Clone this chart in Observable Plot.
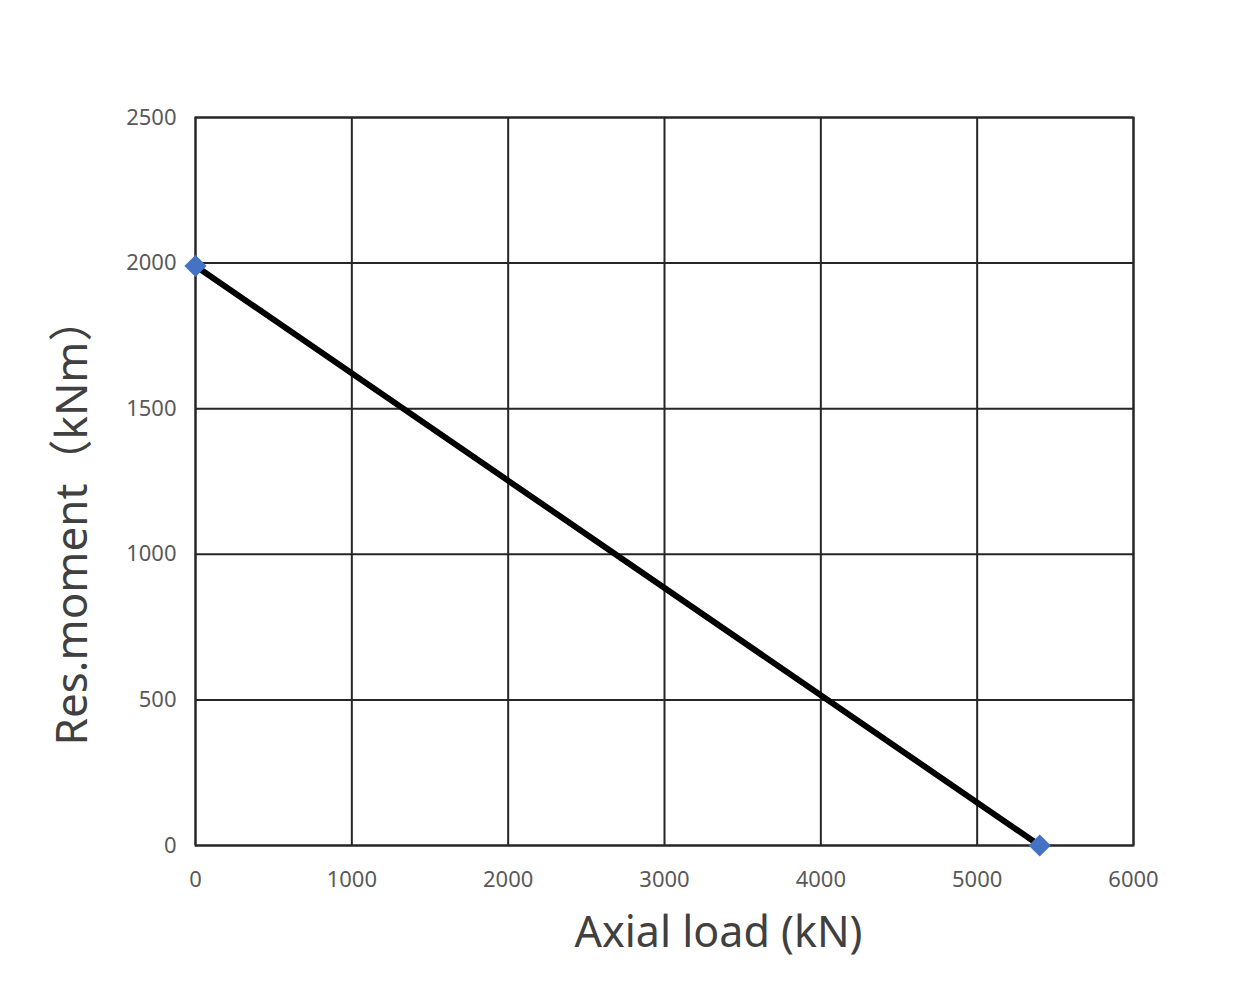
<!DOCTYPE html>
<html>
<head>
<meta charset="utf-8">
<script src="https://cdn.jsdelivr.net/npm/d3@7"></script>
<script src="https://cdn.jsdelivr.net/npm/@observablehq/plot@0.6"></script>
<style>
  html, body { margin: 0; padding: 0; background: #fff; }
  #chart { width: 1260px; height: 990px; }
</style>
</head>
<body>
<div id="chart"></div>
<script>
const axialLoad = [0, 5400];
const resMoment = [1990, 0];
const xTicks = [0, 1000, 2000, 3000, 4000, 5000, 6000];
const yTicks = [0, 500, 1000, 1500, 2000, 2500];
const xLabel = "Axial load (kN)";
const yLabel = "Res.moment（kNm）";

const data = axialLoad.map((x, i) => ({x, y: resMoment[i]}));
const font = "'Noto Sans', 'Noto Sans CJK SC', sans-serif";

const chart = Plot.plot({
  width: 1260,
  height: 990,
  marginLeft: 195,
  marginRight: 127,
  marginTop: 117,
  marginBottom: 145,
  style: {fontFamily: font, background: "#fff"},
  x: {domain: [0, 6000], ticks: xTicks},
  y: {domain: [0, 2500], ticks: yTicks},
  marks: [
    Plot.gridX(xTicks, {stroke: "#262626", strokeOpacity: 1, strokeWidth: 2}),
    Plot.gridY(yTicks, {stroke: "#262626", strokeOpacity: 1, strokeWidth: 2}),
    Plot.frame({stroke: "#262626", strokeWidth: 2}),
    Plot.axisX(xTicks, {tickSize: 0, tickPadding: 26, fontSize: 22, fill: "#595959", label: null, tickFormat: d3.format("d")}),
    Plot.axisY(yTicks, {tickSize: 0, tickPadding: 19, fontSize: 22, fill: "#595959", label: null, tickFormat: d3.format("d")}),
    Plot.line(data, {x: "x", y: "y", stroke: "#000", strokeWidth: 6}),
    Plot.dot(data, {x: "x", y: "y", symbol: "diamond2", r: 10, fill: "#4472C4", stroke: "none"}),
    Plot.text([xLabel], {text: d => d, frameAnchor: "bottom", textAnchor: "middle", lineAnchor: "middle", dx: 54, dy: 88, fontSize: 43, fill: "#404040"}),
    Plot.text([yLabel], {text: d => d, frameAnchor: "left", textAnchor: "middle", lineAnchor: "middle", dx: -123, dy: 40, rotate: -90, fontSize: 44, fill: "#404040"})
  ]
});
document.getElementById("chart").appendChild(chart);
</script>
</body>
</html>
